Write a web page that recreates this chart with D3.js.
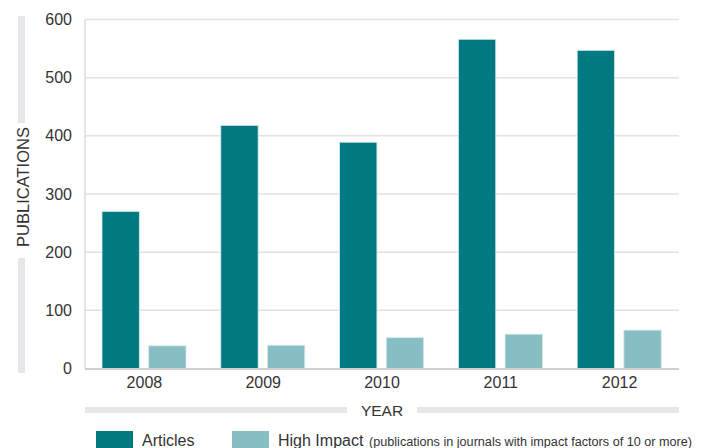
<!DOCTYPE html>
<html>
<head>
<meta charset="utf-8">
<script src="https://cdn.jsdelivr.net/npm/d3@7"></script>
<style>
  html, body { margin: 0; padding: 0; background: #fff; }
  svg { display: block; font-family: "Liberation Sans", Arial, sans-serif; }
</style>
</head>
<body>
<svg id="chart" width="708" height="448"></svg>
<script>
// Publications per year
const years = ["2008", "2009", "2010", "2011", "2012"];
const articles = [270, 418, 389, 566, 547];
const highImpact = [39, 40, 53, 59, 66];
const seriesNames = ["Articles", "High Impact"];
const yTicks = [0, 100, 200, 300, 400, 500, 600];

const colors = { "Articles": "#007a80", "High Impact": "#86bec4" };
const textColor = "#333";
const svg = d3.select("#chart");

const plotLeft = 85, plotRight = 679, plotTop = 19.5, plotBottom = 368.5;

const x0 = d3.scaleBand().domain(years).range([plotLeft, plotRight]).padding(0);
const x1 = d3.scaleBand().domain(seriesNames).range([17, 101]).paddingInner(0.2).paddingOuter(0);
const y = d3.scaleLinear().domain([0, 600]).range([plotBottom, plotTop]);

const rows = years.map((yr, i) => ({ year: yr, values: [
  { key: "Articles", value: articles[i] },
  { key: "High Impact", value: highImpact[i] }
]}));

// gridlines
svg.append("g")
  .selectAll("line")
  .data(yTicks.filter(t => t > 0))
  .join("line")
  .attr("x1", plotLeft).attr("x2", plotRight)
  .attr("y1", d => y(d)).attr("y2", d => y(d))
  .attr("stroke", "#e2e2e2").attr("stroke-width", 1.5);

// left axis line
svg.append("line")
  .attr("x1", plotLeft).attr("x2", plotLeft)
  .attr("y1", y(600)).attr("y2", plotBottom)
  .attr("stroke", "#dcdcdc").attr("stroke-width", 1.5);

// bars
svg.append("g")
  .selectAll("g")
  .data(rows)
  .join("g")
  .attr("transform", d => `translate(${x0(d.year)},0)`)
  .selectAll("rect")
  .data(d => d.values)
  .join("rect")
  .attr("x", d => x1(d.key))
  .attr("width", x1.bandwidth())
  .attr("y", d => y(d.value))
  .attr("height", d => y(0) - y(d.value))
  .attr("fill", d => colors[d.key])
  .attr("stroke", "#d4e9eb")
  .attr("stroke-width", 0.8);

// baseline
svg.append("line")
  .attr("x1", plotLeft).attr("x2", plotRight)
  .attr("y1", plotBottom + 0.5).attr("y2", plotBottom + 0.5)
  .attr("stroke", "#cfcfcf").attr("stroke-width", 2);

// y axis labels
const yAxis = d3.axisLeft(y).tickValues(yTicks).tickSize(0).tickPadding(0);
const yg = svg.append("g").attr("transform", "translate(72,0)").call(yAxis);
yg.select(".domain").remove();
yg.selectAll("text")
  .attr("font-size", 16).attr("fill", textColor)
  .attr("font-family", "Liberation Sans, Arial, sans-serif");

// x axis labels
const xAxis = d3.axisBottom(x0).tickSize(0).tickPadding(0);
const xg = svg.append("g").attr("transform", `translate(0,${plotBottom + 8})`).call(xAxis);
xg.select(".domain").remove();
xg.selectAll("text")
  .attr("font-size", 16).attr("fill", textColor)
  .attr("font-family", "Liberation Sans, Arial, sans-serif");

// y axis title with grey rails
svg.append("rect").attr("x", 18).attr("y", 16).attr("width", 7).attr("height", 107).attr("fill", "#e6e7e8");
svg.append("rect").attr("x", 18).attr("y", 258).attr("width", 7).attr("height", 115).attr("fill", "#e6e7e8");
svg.append("text")
  .attr("transform", "translate(29,187) rotate(-90)")
  .attr("text-anchor", "middle")
  .attr("font-size", 16.5).attr("fill", textColor)
  .text("PUBLICATIONS");

// x axis title with grey rails
svg.append("rect").attr("x", plotLeft).attr("y", 407).attr("width", 262).attr("height", 6).attr("fill", "#e6e7e8");
svg.append("rect").attr("x", 417).attr("y", 407).attr("width", plotRight - 417).attr("height", 6).attr("fill", "#e6e7e8");
svg.append("text")
  .attr("x", 382).attr("y", 416)
  .attr("text-anchor", "middle")
  .attr("font-size", 15.5).attr("fill", textColor)
  .text("YEAR");

// legend
const legend = svg.append("g");
legend.append("rect").attr("x", 96).attr("y", 431).attr("width", 37).attr("height", 17).attr("fill", colors["Articles"]);
legend.append("text").attr("x", 142).attr("y", 446).attr("font-size", 16).attr("fill", textColor).text("Articles");
legend.append("rect").attr("x", 232).attr("y", 431).attr("width", 37).attr("height", 17).attr("fill", colors["High Impact"]);
const hi = legend.append("text").attr("x", 278).attr("y", 446).attr("fill", textColor);
hi.append("tspan").attr("font-size", 16).text("High Impact ");
hi.append("tspan").attr("font-size", 12.5)
  .attr("textLength", 323).attr("lengthAdjust", "spacingAndGlyphs")
  .attr("x", 369)
  .text("(publications in journals with impact factors of 10 or more)");
</script>
</body>
</html>
